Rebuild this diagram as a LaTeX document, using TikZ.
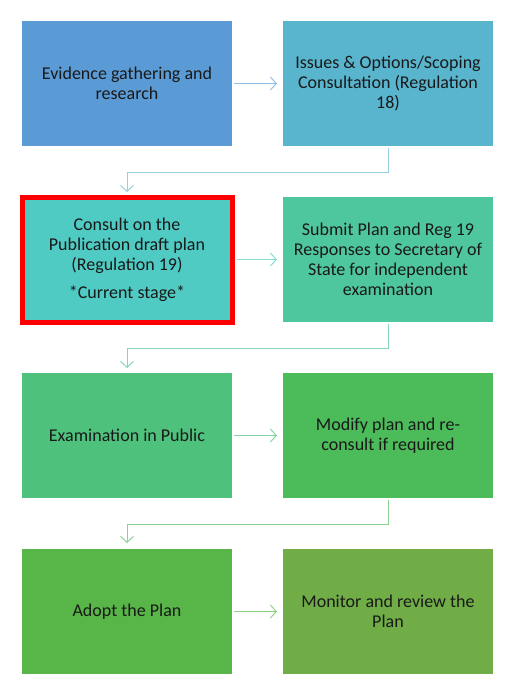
\documentclass[tikz,border=0pt]{standalone}
\usepackage{fontspec}
\setmainfont{Carlito}
\usetikzlibrary{arrows.meta}
\definecolor{stepA}{HTML}{5B9BD5}
\definecolor{stepB}{HTML}{59B5CE}
\definecolor{stepC}{HTML}{4FCBC3}
\definecolor{stepD}{HTML}{4EC69E}
\definecolor{stepE}{HTML}{4EC17C}
\definecolor{stepF}{HTML}{4CBB5A}
\definecolor{stepG}{HTML}{58B548}
\definecolor{stepH}{HTML}{70AD47}
\begin{document}
\begin{tikzpicture}[x=1pt,y=-1pt,
  stage/.style={minimum width=210pt,minimum height=125pt,inner sep=0pt,outer sep=0pt,
    text=black!90,align=center,font=\fontsize{18}{20}\selectfont},
  link/.style={line width=1pt,-{Straight Barb[length=6pt,width=13pt]}}]
\useasboundingbox (0,0) rectangle (517,699);

\node[stage,fill=stepA] (evidence) at (127,83.5) {Evidence gathering and\\research};
\node[stage,fill=stepB] (scoping) at (388,83.5) {Issues \& Options/Scoping\\Consultation (Regulation\\18)};
\node[stage,fill=stepC,draw=red,line width=5pt] (consult) at (127,259.5) {Consult on the\\Publication draft plan\\(Regulation 19)\\[8pt]*Current stage*};
\node[stage,fill=stepD] (submit) at (388,259.5) {Submit Plan and Reg 19\\Responses to Secretary of\\State for independent\\examination};
\node[stage,fill=stepE] (exam) at (127,435.5) {Examination in Public};
\node[stage,fill=stepF] (modify) at (388,435.5) {Modify plan and re-\\consult if required};
\node[stage,fill=stepG] (adopt) at (127,611.5) {Adopt the Plan};
\node[stage,fill=stepH] (monitor) at (388,611.5) {Monitor and review the\\Plan};

\draw[link,draw=stepA!65!white,shorten <=2pt,shorten >=6pt] (evidence) -- (scoping);
\draw[link,draw=stepB!65!white,shorten <=2pt,shorten >=5pt] (scoping.south) -- ++(0,26) -| (consult.north);
\draw[link,draw=stepC!70!white,shorten <=4.5pt,shorten >=6pt] (consult) -- (submit);
\draw[link,draw=stepD!70!white,shorten <=2pt,shorten >=5pt] (submit.south) -- ++(0,26) -| (exam.north);
\draw[link,draw=stepE!70!white,shorten <=2pt,shorten >=6pt] (exam) -- (modify);
\draw[link,draw=stepF!65!white,shorten <=2pt,shorten >=6pt] (modify.south) -- ++(0,26) -| (adopt.north);
\draw[link,draw=stepG!65!white,shorten <=2pt,shorten >=6pt] (adopt) -- (monitor);
\end{tikzpicture}
\end{document}
